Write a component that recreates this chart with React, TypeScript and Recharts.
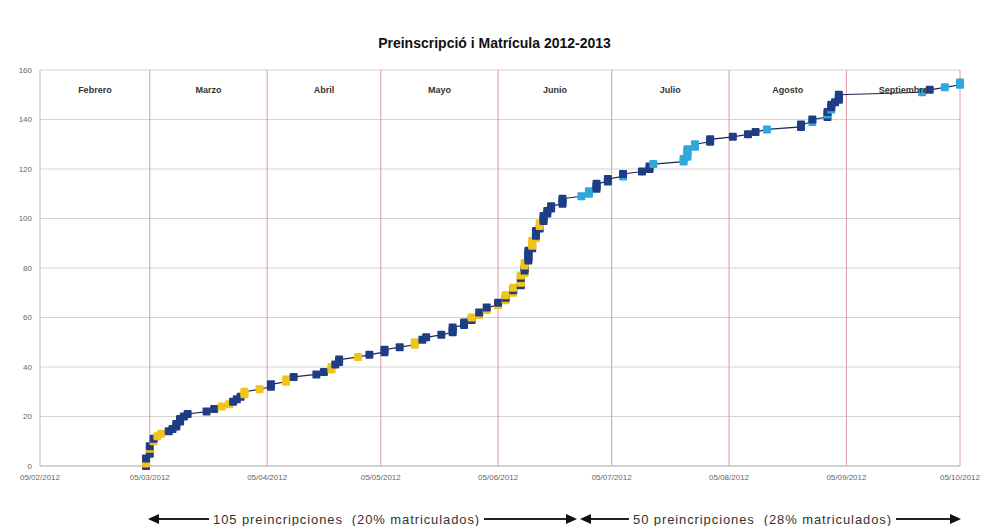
import { CartesianGrid, Line, LineChart, ReferenceDot, ReferenceLine, XAxis, YAxis } from "recharts"

// days counted from 05/02/2012
const tickDays = [0, 29, 60, 90, 121, 151, 182, 213, 243]
const tickLabels = ["05/02/2012", "05/03/2012", "05/04/2012", "05/05/2012", "05/06/2012", "05/07/2012", "05/08/2012", "05/09/2012", "05/10/2012"]
const monthNames = ["Febrero", "Marzo", "Abril", "Mayo", "Junio", "Julio", "Agosto", "Septiembre"]
const yTicks = [0, 20, 40, 60, 80, 100, 120, 140, 160]

// N = preinscrito, Y = matriculado (1r tram), C = matriculado (2n tram)
const pointDays = [
  28, 28, 28, 29, 29, 29, 30, 30, 31, 32, 34, 35, 36, 36, 37, 37, 38, 39, 44, 46,
  48, 50, 51, 52, 53, 54, 54, 58, 61, 61, 65, 65, 67, 73, 75, 77, 77, 78, 79, 79,
  84, 87, 91, 91, 95, 99, 99, 101, 102, 106, 109, 109, 109, 112, 112, 114, 114, 116, 116, 118,
  118, 121, 121, 123, 123, 123, 125, 125, 125, 127, 127, 127, 127, 127, 128, 128, 128, 128, 128, 129,
  129, 129, 129, 129, 130, 130, 130, 130, 131, 131, 131, 131, 132, 132, 132, 133, 133, 133, 134, 134,
  135, 135, 138, 138, 138, 143, 145, 145, 147, 147, 147, 150, 150, 154, 154, 159, 161, 161, 162, 170,
  170, 171, 171, 171, 171, 173, 173, 177, 177, 183, 187, 189, 192, 201, 201, 204, 204, 208, 208, 208,
  209, 209, 209, 210, 211, 211, 211, 233, 235, 239, 243, 243,
]
const pointCounts = [
  0, 1, 3, 5, 7, 8, 10, 11, 12, 13, 14, 15, 16, 17, 18, 19, 20, 21, 22, 23,
  24, 25, 26, 27, 28, 29, 30, 31, 32, 33, 34, 35, 36, 37, 38, 39, 40, 41, 42, 43,
  44, 45, 46, 47, 48, 49, 50, 51, 52, 53, 54, 55, 56, 57, 58, 59, 60, 61, 62, 63,
  64, 65, 66, 67, 68, 69, 70, 71, 72, 73, 74, 75, 76, 77, 78, 79, 80, 81, 82, 83,
  84, 85, 86, 87, 88, 89, 90, 91, 92, 93, 94, 95, 96, 97, 98, 99, 100, 101, 102, 103,
  104, 105, 106, 107, 108, 109, 110, 111, 112, 113, 114, 115, 116, 117, 118, 119, 120, 121, 122, 123,
  124, 125, 126, 127, 128, 129, 130, 131, 132, 133, 134, 135, 136, 137, 138, 139, 140, 141, 142, 143,
  144, 145, 146, 147, 148, 149, 150, 151, 152, 153, 154, 155,
]
const pointStatus = [
  "N", "Y", "N", "N", "Y", "N", "Y", "N", "Y", "Y", "N", "N", "N", "N", "N", "N", "N", "N", "N", "N",
  "Y", "Y", "N", "N", "N", "Y", "Y", "Y", "N", "N", "Y", "Y", "N", "N", "N", "Y", "Y", "N", "N", "N",
  "Y", "N", "N", "N", "N", "Y", "Y", "N", "N", "N", "N", "N", "N", "N", "N", "N", "Y", "Y", "N", "Y",
  "N", "Y", "N", "Y", "N", "Y", "Y", "N", "Y", "N", "Y", "Y", "N", "Y", "Y", "N", "N", "Y", "Y", "N",
  "N", "N", "N", "N", "N", "Y", "Y", "Y", "Y", "N", "N", "N", "N", "Y", "Y", "N", "N", "N", "N", "N",
  "N", "N", "N", "N", "N", "C", "C", "C", "N", "N", "N", "N", "N", "C", "N", "N", "N", "N", "C", "C",
  "C", "C", "C", "C", "C", "C", "C", "N", "N", "N", "N", "N", "C", "N", "N", "C", "N", "N", "C", "N",
  "C", "N", "N", "N", "N", "N", "N", "C", "N", "C", "C", "C",
]

const chartData = pointDays.map((d, i) => ({ day: d, count: pointCounts[i], status: pointStatus[i] }))
const monthMarks = monthNames.map((m, i) => ({ name: m, mid: (tickDays[i] + tickDays[i + 1]) / 2 }))

const markerColors: Record<string, string> = { N: "#1f3d85", Y: "#f0c419", C: "#2fa8de" }

const font = "'Liberation Sans', Arial, sans-serif"

function Marker(props: any) {
  const { cx, cy, payload, index } = props
  if (cx == null || cy == null) return null
  return <rect key={`mk${index}`} x={cx - 4} y={cy - 4} width={8} height={8} rx={1} fill={markerColors[payload.status]} />
}

function Arrow({ left, lead, text, tail }: { left: number; lead: number; text: string; tail: number }) {
  return (
    <div style={{ position: "absolute", left, top: 511, display: "flex", alignItems: "center", height: 16, fontFamily: font, fontSize: 13, letterSpacing: 0.9, color: "#333" }}>
      <div style={{ width: 0, height: 0, borderTop: "5px solid transparent", borderBottom: "5px solid transparent", borderRight: "11px solid #111" }} />
      <div style={{ width: lead, height: 2, background: "#222" }} />
      <span style={{ whiteSpace: "pre", padding: "0 4px" }}>{text}</span>
      <div style={{ width: tail, height: 2, background: "#222" }} />
      <div style={{ width: 0, height: 0, borderTop: "5px solid transparent", borderBottom: "5px solid transparent", borderLeft: "11px solid #111" }} />
    </div>
  )
}

export default function App() {
  return (
    <div style={{ position: "absolute", left: 0, top: 0, width: 989, height: 526, background: "#fff", overflow: "hidden" }}>
      <div style={{ position: "absolute", top: 35, width: 989, textAlign: "center", fontFamily: font, fontWeight: "bold", fontSize: 14, color: "#111" }}>
        Preinscripció i Matrícula 2012-2013
      </div>
      <LineChart width={989} height={526} data={chartData} margin={{ top: 70, right: 29, left: 0, bottom: 40 }}>
        <CartesianGrid vertical={false} stroke="#d4d4d4" />
        <XAxis
          dataKey="day"
          type="number"
          domain={[0, 243]}
          ticks={tickDays}
          tickFormatter={(v: number) => tickLabels[tickDays.indexOf(v)] ?? ""}
          tick={{ fontSize: 8, fill: "#666", fontFamily: font }}
          tickLine={false}
          axisLine={{ stroke: "#bbb" }}
          height={20}
          interval={0}
        />
        <YAxis
          type="number"
          domain={[0, 160]}
          ticks={yTicks}
          tick={{ fontSize: 8, fill: "#666", fontFamily: font }}
          tickLine={false}
          axisLine={{ stroke: "#bbb" }}
          width={40}
        />
        {tickDays.slice(1).map((d) => (
          <ReferenceLine key={`v${d}`} x={d} stroke="#dc9ca6" strokeWidth={1} />
        ))}
        {monthMarks.map((m) => (
          <ReferenceDot
            key={m.name}
            x={m.mid}
            y={152}
            r={0}
            fill="none"
            stroke="none"
            label={{ value: m.name, position: "center", fontSize: 9, fontWeight: "bold", fill: "#333", fontFamily: font }}
          />
        ))}
        <Line
          dataKey="count"
          type="linear"
          stroke="#1c2a50"
          strokeWidth={1.2}
          dot={Marker}
          activeDot={false}
          isAnimationActive={false}
        />
      </LineChart>
      <Arrow left={148} lead={50} text="105 preincripciones  (20% matriculados)" tail={82} />
      <Arrow left={580} lead={38} text="50 preincripciones  (28% matriculados)" tail={54} />
    </div>
  )
}
